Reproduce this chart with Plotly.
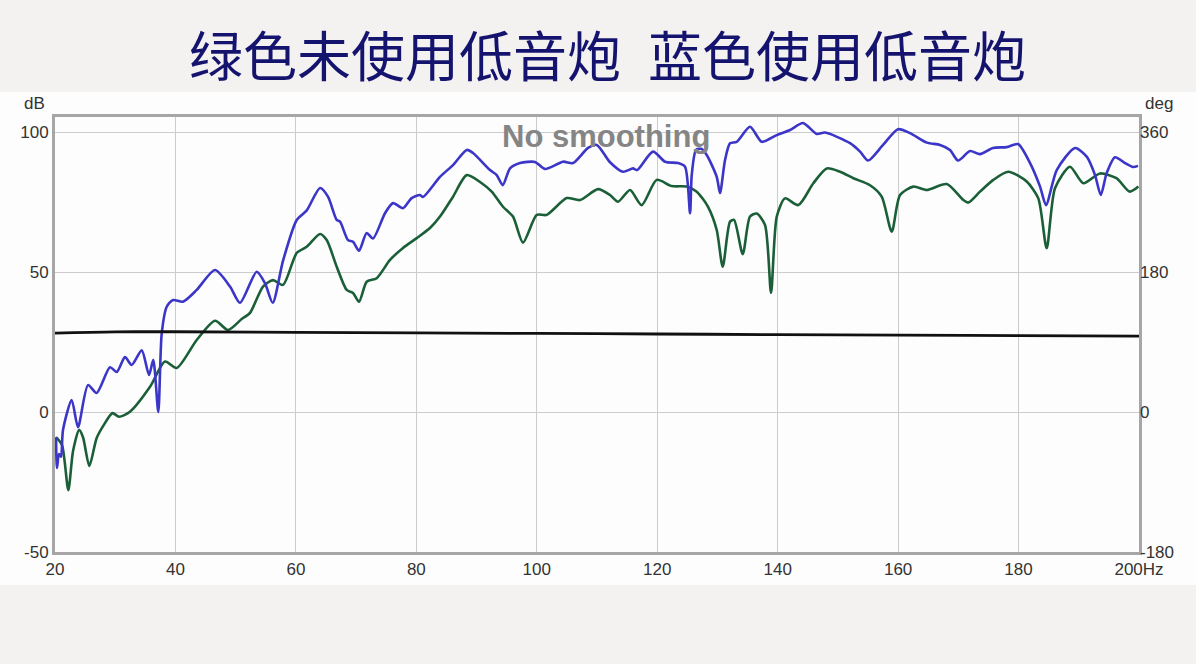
import plotly.graph_objects as go

# ---- data ----
blue_hz = [20.17, 20.33, 20.66, 21.0, 21.33, 22.77, 23.82, 25.48, 26.92, 29.13, 30.25, 31.62, 32.74,
           34.4, 35.61, 36.32, 37.15, 37.72, 38.55, 39.6, 41.26, 43.53, 46.57, 49.06, 50.72, 53.49,
           54.87, 56.15, 57.86, 60.14, 61.8, 64.01, 65.33, 66.78, 67.33, 68.65, 69.49, 70.48, 71.76,
           72.81, 74.8, 76.13, 77.79, 79.23, 80.61, 81.11, 83.93, 86.09, 88.37, 89.41, 92.24, 93.35,
           94.35, 95.56, 97.22, 99.71, 101.37, 104.36, 106.02, 108.51, 109.96, 112.16, 114.32, 115.98,
           116.65, 119.3, 121.3, 123.46, 124.62, 125.45, 125.73, 126.44, 127.3, 128.22, 129.88, 130.43,
           131.26, 132.09, 133.2, 135.41, 137.36, 139.85, 142.06, 144.21, 146.49, 147.87, 152.02,
           153.68, 155.01, 157.5, 159.99, 161.98, 164.76, 166.96, 168.62, 169.95, 171.94, 173.6,
           175.76, 178.04, 179.91, 181.91, 183.57, 184.56, 186.34, 189.38, 191.32, 192.7, 193.65,
           194.64, 196.02, 197.68, 199.01, 199.84]
blue_db = [-9, -20, -15, -16, -6.4, 4.3, -5.4, 9.6, 6.8, 16, 14.3, 19.6, 16.8,
           22, 13.2, 18.6, 0, 28, 37.6, 40, 39.4, 43.6, 50.7, 44.8, 39, 50.1,
           46, 39, 54, 68.6, 72, 80, 76.9, 68.6, 68, 61.4, 60.8, 57.6, 63.9,
           62, 71, 74.6, 72.8, 76.4, 77.5, 76.8, 84, 88.2, 93.6, 92.5, 86.4, 84.6,
           81, 87, 88.9, 89.3, 86.8, 89.4, 88.9, 94.3, 95.4, 89.2, 85.8, 87,
           86.4, 93, 89.4, 88.9, 87.6, 71, 84.6, 93.6, 94, 91.8, 84, 78.2,
           90, 96, 96.5, 101.9, 96.5, 98.9, 100.7, 103.2, 99.3, 99.8, 96,
           93, 89.8, 95.4, 101, 99.6, 96.2, 95.4, 93.6, 89.8, 93.2, 92.1,
           94.3, 94.6, 95.7, 88.9, 80.5, 73.9, 86.4, 94.3, 91.2, 84.6, 77.5,
           85.4, 91, 88.9, 87.5, 87.9]

green_hz = [20.17, 21.16, 22.21, 22.99, 23.99, 24.65, 25.7, 26.92, 28.14, 29.55, 30.63, 32.45, 35.78,
            38.27, 40.21, 43.53, 46.57, 48.73, 51.0, 52.38, 54.54, 56.2, 57.86, 60.14, 61.8, 64.01,
            65.12, 66.78, 68.44, 69.49, 70.48, 71.76, 73.42, 75.63, 77.79, 80.07, 82.27, 83.93, 86.09,
            88.37, 90.86, 92.52, 94.39, 96.05, 97.71, 99.99, 101.65, 104.97, 107.18, 110.17, 112.16,
            113.49, 115.48, 117.42, 119.91, 122.4, 124.9, 126.56, 128.44, 129.88, 130.88, 132.09,
            132.76, 134.2, 135.41, 136.52, 137.9, 138.9, 139.85, 141.22, 143.43, 145.92, 148.15,
            150.36, 152.57, 155.34, 157.28, 158.94, 160.32, 162.53, 164.75, 168.07, 170.83, 171.66,
            173.6, 175.81, 178.3, 181.35, 183.28, 184.67, 186.05, 188.54, 190.75, 193.52, 196.25,
            198.45, 199.9]
green_db = [-9, -11.8, -27.9, -14, -6.4, -9, -19.3, -9.3, -4.5, -0.4, -1.7, 0.1, 9,
            18, 15.7, 25.7, 32.6, 29.3, 33.2, 35.4, 44.8, 47.1, 45.4, 56.8, 59, 63.6,
            61.4, 51.9, 43.6, 42.5, 39.4, 46.5, 47.8, 54.3, 58.6, 62.1, 65.7, 69.8, 76.9,
            84.6, 81.7, 78.7, 73.3, 69.8, 60.5, 70.4, 70.4, 76.4, 75.7, 79.6, 77.5,
            75.1, 79.3, 73.9, 82.9, 80.7, 80.5, 78.7, 73.3, 65, 51.9, 68,
            68.6, 56.4, 69.8, 70.9, 66.8, 42.5, 69.8, 76.3, 73.9, 81.7, 87,
            85.8, 83.5, 81, 76.9, 64.4, 77.5, 80.5, 79.3, 81.4, 75.7, 74.8,
            78.7, 82.9, 85.8, 82.3, 76.3, 58.5, 79.9, 87.6, 81.7, 85.2, 83.5,
            78.7, 80.5]

phase_hz = [20, 30, 40, 60, 80, 100, 120, 140, 160, 180, 200]
phase_deg = [101.5, 103, 103.2, 102.5, 101.8, 101, 100.3, 99.5, 98.8, 98.2, 97.6]

x_ticks = [20, 40, 60, 80, 100, 120, 140, 160, 180, 200]
x_ticktext = ["20", "40", "60", "80", "100", "120", "140", "160", "180", "200Hz"]
db_ticks = [-50, 0, 50, 100]
db_ticktext = ["-50", "0", "50", "100"]
deg_ticks = [-180, 0, 180, 360]
deg_ticktext = ["-180", "0", "180", "360"]

title_text = "绿色未使用低音炮\u2002蓝色使用低音炮"

# ---- figure ----
fig = go.Figure()
fig.add_trace(go.Scatter(x=green_hz, y=green_db, mode="lines",
                         line=dict(color="#1b5f38", width=2.6, shape="spline", smoothing=0.7),
                         showlegend=False, hoverinfo="skip"))
fig.add_trace(go.Scatter(x=blue_hz, y=blue_db, mode="lines",
                         line=dict(color="#3b35c8", width=2.6, shape="spline", smoothing=0.7),
                         showlegend=False, hoverinfo="skip"))
fig.add_trace(go.Scatter(x=phase_hz, y=phase_deg, mode="lines", yaxis="y2",
                         line=dict(color="#111111", width=2.8, shape="spline"),
                         showlegend=False, hoverinfo="skip"))

tick_font = dict(family="Liberation Sans, Arial, sans-serif", size=17, color="#333333")

fig.update_layout(
    width=1196, height=664,
    margin=dict(l=55, r=57, t=117, b=112),
    paper_bgcolor="#f4f1f1",
    plot_bgcolor="#ffffff",
    xaxis=dict(range=[20, 200], tickvals=x_ticks, ticktext=x_ticktext,
               showgrid=True, gridcolor="#cccccc", gridwidth=1,
               showline=True, linecolor="#a6a6a6", linewidth=3, mirror=True,
               ticks="", tickfont=tick_font, zeroline=False),
    yaxis=dict(range=[-50, 105.36], tickvals=db_ticks, ticktext=db_ticktext,
               showgrid=True, gridcolor="#cccccc", gridwidth=1,
               showline=True, linecolor="#a6a6a6", linewidth=3, mirror=True,
               ticks="", tickfont=tick_font, zeroline=False),
    yaxis2=dict(range=[-180, 379.3], tickvals=deg_ticks, ticktext=deg_ticktext,
                overlaying="y", side="right",
                showgrid=False, zeroline=False, showline=False, ticks="", tickfont=tick_font),
    shapes=[dict(type="rect", xref="paper", yref="paper", x0=-0.5, x1=1.5,
                 y0=(664 - 585 - 112) / 435, y1=(664 - 92 - 112) / 435,
                 fillcolor="#fdfdfd", line=dict(width=0), layer="below")],
    annotations=[
        dict(text=title_text, xref="paper", yref="paper", x=(607 - 55) / 1084, xanchor="center",
             y=(664 - 112 - 53) / 435, yanchor="middle", showarrow=False,
             font=dict(family="Noto Sans CJK SC", size=54, color="#14146e")),
        dict(text="<b>No smoothing</b>", xref="paper", yref="paper",
             x=(606 - 55) / 1084, xanchor="center", y=(552 - 136) / 435, yanchor="middle",
             showarrow=False,
             font=dict(family="Liberation Sans, Arial, sans-serif", size=31, color="#858585")),
        dict(text="dB", xref="paper", yref="paper", x=(47 - 55) / 1084, xanchor="right",
             y=(552 - 103) / 435, yanchor="middle", showarrow=False, font=tick_font),
        dict(text="deg", xref="paper", yref="paper", x=(1143 - 55) / 1084, xanchor="left",
             y=(552 - 103) / 435, yanchor="middle", showarrow=False, font=tick_font),
    ],
)

fig.write_html("out.html", config={"displayModeBar": False},
               post_script="document.body.style.margin='0';document.body.style.padding='0';")
